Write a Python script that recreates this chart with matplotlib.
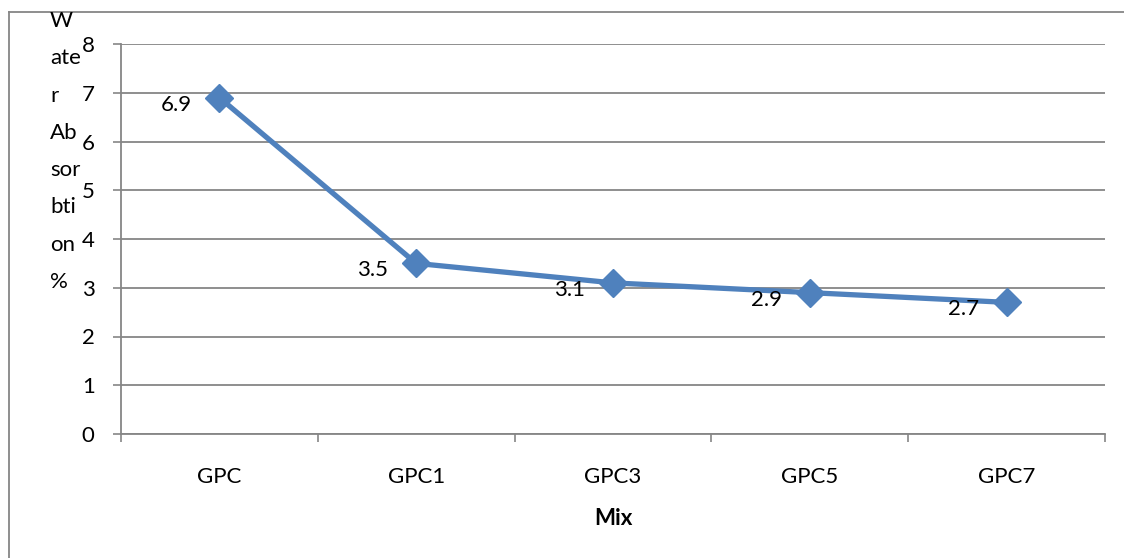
import matplotlib.pyplot as plt
from matplotlib.lines import Line2D

# data
mixes = ["GPC", "GPC1", "GPC3", "GPC5", "GPC7"]
absorption = [6.9, 3.5, 3.1, 2.9, 2.7]
y_ticks = [0, 1, 2, 3, 4, 5, 6, 7, 8]
y_label_lines = ["W", "ate", "r", "Ab", "sor", "bti", "on", "%"]

plt.rcParams['font.family'] = ['Lato', 'DejaVu Sans']

line_color = "#4F81BD"
grid_color = "#868686"
fs = 16

fig = plt.figure(figsize=(11.24, 5.58), dpi=100)
W, H = 1124, 558
ax = fig.add_axes([121 / W, 1 - 434 / H, (1105 - 121) / W, (434 - 44) / H])

x = list(range(len(mixes)))
ax.plot(x, absorption, color=line_color, linewidth=3.8, marker="D",
        markersize=14, markerfacecolor=line_color, markeredgecolor=line_color,
        zorder=3, clip_on=False)

for xi, v in zip(x, absorption):
    ax.annotate(f"{v}", (xi, v), xytext=(-20, -5), textcoords="offset points",
                ha="right", va="center", fontsize=fs, color="black", zorder=4)

ax.set_xlim(-0.5, len(mixes) - 0.5)
ax.set_ylim(0, 8)
ax.set_yticks(y_ticks)
ax.set_yticklabels([str(t) for t in y_ticks], fontsize=fs)
ax.set_xticks(x)
ax.set_xticklabels(mixes, fontsize=fs)
ax.tick_params(axis="x", length=0, pad=24)
ax.tick_params(axis="y", length=6, width=1.2, color=grid_color, pad=13)

# category boundary ticks
ax.set_xticks([i - 0.5 for i in range(len(mixes) + 1)], minor=True)
ax.tick_params(axis="x", which="minor", length=6, width=1.2, color=grid_color,
               direction="out")

ax.yaxis.grid(True, color=grid_color, linewidth=1.3)
ax.set_axisbelow(True)
for s in ["top", "right"]:
    ax.spines[s].set_visible(False)
for s in ["left", "bottom"]:
    ax.spines[s].set_color(grid_color)
    ax.spines[s].set_linewidth(1.3)

ax.set_xlabel("Mix", fontsize=fs, fontweight="bold", labelpad=15)

# broken y label
fig.text(50 / W, 1 - 11 / H, "\n".join(y_label_lines), fontsize=fs,
         ha="left", va="top", linespacing=2.08)

# outer chart border (top and left edges)
fig.add_artist(Line2D([9 / W, 1], [1 - 12 / H, 1 - 12 / H], color=grid_color, linewidth=1.3))
fig.add_artist(Line2D([9 / W, 9 / W], [0, 1 - 12 / H], color=grid_color, linewidth=1.3))

fig.savefig("out.png", dpi=100)
